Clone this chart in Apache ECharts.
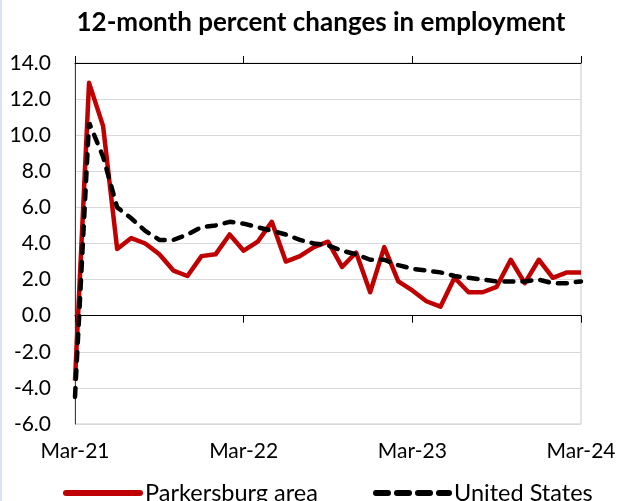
<!DOCTYPE html>
<html>
<head>
<meta charset="utf-8">
<script src="https://cdn.jsdelivr.net/npm/echarts@6/dist/echarts.min.js"></script>
<style>
html,body{margin:0;padding:0;background:#fff;}
#chart{width:619px;height:501px;}
</style>
</head>
<body>
<div id="chart"></div>
<script>
const titleText = '12-month percent changes in employment';
const months = ['Mar-21','Apr-21','May-21','Jun-21','Jul-21','Aug-21','Sep-21','Oct-21','Nov-21','Dec-21',
  'Jan-22','Feb-22','Mar-22','Apr-22','May-22','Jun-22','Jul-22','Aug-22','Sep-22','Oct-22','Nov-22','Dec-22',
  'Jan-23','Feb-23','Mar-23','Apr-23','May-23','Jun-23','Jul-23','Aug-23','Sep-23','Oct-23','Nov-23','Dec-23',
  'Jan-24','Feb-24','Mar-24'];
const parkersburg = [-3.6, 12.9, 10.5, 3.7, 4.3, 4.0, 3.4, 2.5, 2.2, 3.3,
  3.4, 4.5, 3.6, 4.1, 5.2, 3.0, 3.3, 3.8, 4.1, 2.7, 3.5, 1.3,
  3.8, 1.9, 1.4, 0.8, 0.5, 2.1, 1.3, 1.3, 1.6, 3.1, 1.8, 3.1,
  2.1, 2.4, 2.4];
const unitedStates = [-4.5, 10.7, 8.8, 6.0, 5.4, 4.7, 4.2, 4.2, 4.5, 4.9,
  5.0, 5.2, 5.1, 4.9, 4.7, 4.5, 4.2, 4.0, 3.9, 3.6, 3.4, 3.1,
  3.1, 2.8, 2.6, 2.5, 2.4, 2.2, 2.1, 2.0, 1.9, 1.9, 1.9, 2.0,
  1.8, 1.8, 1.9];
const seriesNames = ['Parkersburg area', 'United States'];
const yMin = -6, yMax = 14, yStep = 2;

const FONT = 'Lato';
const chart = echarts.init(document.getElementById('chart'), null, {renderer: 'canvas'});
const option = {
  backgroundColor: '#fff',
  animation: false,
  title: {
    text: titleText,
    left: 316,
    textAlign: 'center',
    top: 5,
    textStyle: {fontFamily: FONT, fontWeight: 'bold', fontSize: 26, color: '#000'}
  },
  graphic: [{type: 'rect', shape: {x: 0, y: 0, width: 2, height: 501}, style: {fill: '#dae3f3'}, silent: true}],
  legend: [
    {data: [seriesNames[0]], left: 63, top: 481, padding: 0, itemWidth: 74, itemHeight: 14, itemGap: 8,
     itemStyle: {opacity: 0},
     lineStyle: {width: 6, cap: 'round'},
     textStyle: {fontFamily: FONT, fontSize: 23.5, color: '#000'}},
    {data: [seriesNames[1]], left: 373, top: 481, padding: 0, itemWidth: 73, itemHeight: 14, itemGap: 8,
     itemStyle: {opacity: 0},
     lineStyle: {width: 6, type: [12, 9], cap: 'round'},
     textStyle: {fontFamily: FONT, fontSize: 23.5, color: '#000'}}
  ],
  grid: {left: 75, right: 38, top: 63, bottom: 77, show: true, borderColor: '#c8c8c8', borderWidth: 1},
  xAxis: [
    {type: 'category', data: months, boundaryGap: false, position: 'bottom',
     axisLine: {onZero: true, lineStyle: {color: '#000', width: 1}},
     axisTick: {show: true, interval: 11, length: 7, lineStyle: {color: '#000'}},
     axisLabel: {show: false}, splitLine: {show: false}},
    {type: 'category', data: months, boundaryGap: false, position: 'top',
     axisLine: {onZero: true, lineStyle: {color: '#000', width: 1}},
     axisTick: {show: true, interval: 11, length: 7, lineStyle: {color: '#000'}},
     axisLabel: {show: false}, splitLine: {show: false}},
    {type: 'category', data: months, boundaryGap: false, position: 'bottom',
     axisLine: {show: false, onZero: false}, axisTick: {show: false},
     axisLabel: {show: true, interval: 11, margin: 17, fontFamily: FONT, fontSize: 21, color: '#000'},
     splitLine: {show: false}}
  ],
  yAxis: {
    type: 'value', min: yMin, max: yMax, interval: yStep,
    axisLine: {show: true, onZero: false, lineStyle: {color: '#404040', width: 1}},
    axisTick: {show: false},
    axisLabel: {margin: 24, fontFamily: FONT, fontSize: 21, color: '#000', formatter: v => v.toFixed(1)},
    splitLine: {show: true, lineStyle: {color: '#d9d9d9', width: 1}}
  },
  series: [
    {name: seriesNames[0], type: 'line', xAxisIndex: 0, data: parkersburg, showSymbol: false, symbol: 'none',
     lineStyle: {color: '#c00000', width: 4.5, join: 'round'}, itemStyle: {color: '#c00000'}, z: 3},
    {name: seriesNames[1], type: 'line', xAxisIndex: 0, data: unitedStates, showSymbol: false, symbol: 'none',
     lineStyle: {color: '#000', width: 4.5, type: [9, 9], cap: 'round'}, itemStyle: {color: '#000'}, z: 4}
  ]
};
chart.setOption(option);
</script>
</body>
</html>
